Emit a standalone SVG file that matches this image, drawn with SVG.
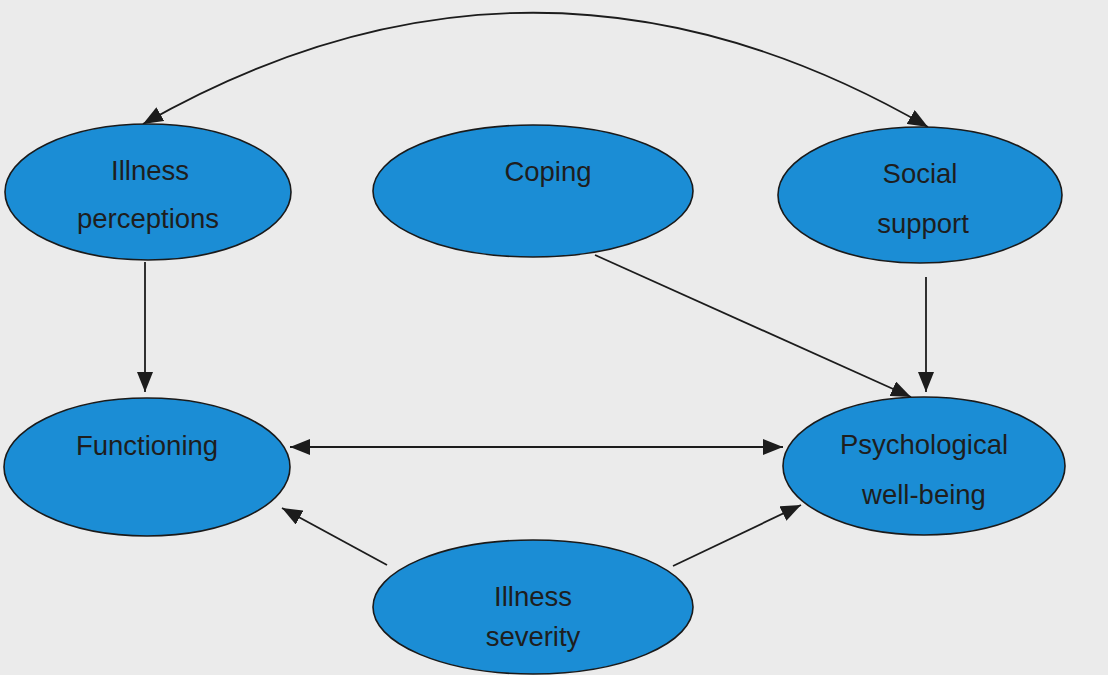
<svg xmlns="http://www.w3.org/2000/svg" width="1108" height="675" viewBox="0 0 1108 675">
  <defs>
    <marker id="arrow" viewBox="0 0 20 16" refX="20" refY="8" markerWidth="20" markerHeight="16" markerUnits="userSpaceOnUse" orient="auto-start-reverse">
      <path d="M0,0 L20,8 L0,16 Z" fill="#1c1c1c"/>
    </marker>
    <style>
      .node { fill: #1b8dd5; stroke: #1a1a1a; stroke-width: 1.6; }
      .label { font-family: "Liberation Sans", Arial, sans-serif; font-size: 27.5px; fill: #1e1e1e; text-anchor: middle; }
      .edge { fill: none; stroke: #1c1c1c; stroke-width: 1.8; }
    </style>
  </defs>

  <rect x="0" y="0" width="1108" height="675" fill="#ebebeb"/>

  <g id="connectors">
    <!-- two-way arc linking illness perceptions and social support -->
    <path class="edge" d="M143,124 Q536,-100 928,127" marker-start="url(#arrow)" marker-end="url(#arrow)"/>
    <line class="edge" x1="145" y1="262" x2="145" y2="392" marker-end="url(#arrow)"/>
    <line class="edge" x1="926" y1="277" x2="926" y2="392" marker-end="url(#arrow)"/>
    <line class="edge" x1="595" y1="255" x2="911" y2="397" marker-end="url(#arrow)"/>
    <line class="edge" x1="290" y1="447" x2="783" y2="447" marker-start="url(#arrow)" marker-end="url(#arrow)"/>
    <line class="edge" x1="387" y1="565" x2="282" y2="508" marker-end="url(#arrow)"/>
    <line class="edge" x1="673" y1="566" x2="801" y2="505" marker-end="url(#arrow)"/>
  </g>

  <g id="illness-perceptions">
    <ellipse class="node" cx="148" cy="192" rx="143" ry="68"/>
    <text class="label" x="150" y="180">Illness</text>
    <text class="label" x="148" y="228">perceptions</text>
  </g>

  <g id="coping">
    <ellipse class="node" cx="533" cy="191" rx="160" ry="66"/>
    <text class="label" x="548" y="181">Coping</text>
  </g>

  <g id="social-support">
    <ellipse class="node" cx="920" cy="195" rx="142" ry="68"/>
    <text class="label" x="920" y="183">Social</text>
    <text class="label" x="923" y="233">support</text>
  </g>

  <g id="functioning">
    <ellipse class="node" cx="147" cy="467" rx="143" ry="69"/>
    <text class="label" x="147" y="455">Functioning</text>
  </g>

  <g id="psychological-well-being">
    <ellipse class="node" cx="924" cy="466" rx="141" ry="69"/>
    <text class="label" x="924" y="454">Psychological</text>
    <text class="label" x="924" y="504">well-being</text>
  </g>

  <g id="illness-severity">
    <ellipse class="node" cx="533" cy="607" rx="160" ry="67"/>
    <text class="label" x="533" y="606">Illness</text>
    <text class="label" x="533" y="646">severity</text>
  </g>
</svg>
